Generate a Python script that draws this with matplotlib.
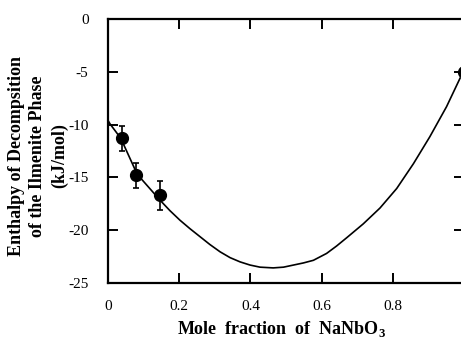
import matplotlib
matplotlib.use("Agg")
import matplotlib.pyplot as plt

plt.rcParams['font.family'] = ['Liberation Serif', 'DejaVu Serif']
plt.rcParams['mathtext.fontset'] = 'custom'
plt.rcParams['mathtext.rm'] = 'Liberation Serif:bold'
plt.rcParams['mathtext.bf'] = 'Liberation Serif:bold'

# measured points with error bars
x_pts = [0.039, 0.079, 0.146, 1.0]
y_pts = [-11.3, -14.8, -16.7, -5.0]
y_err = [1.2, 1.2, 1.4, 0.8]

# fitted curve
x_fit = [0.0, 0.006, 0.036, 0.082, 0.146, 0.174, 0.202, 0.230, 0.258, 0.286,
         0.315, 0.343, 0.371, 0.399, 0.427, 0.464, 0.493, 0.521, 0.549,
         0.577, 0.614, 0.642, 0.671, 0.717, 0.764, 0.811, 0.858, 0.904,
         0.951, 0.989]
y_fit = [-9.6, -9.95, -11.3, -14.7, -17.15, -18.15, -19.05, -19.85, -20.6,
         -21.35, -22.05, -22.6, -23.0, -23.3, -23.5, -23.57, -23.5, -23.3,
         -23.1, -22.85, -22.2, -21.5, -20.7, -19.4, -17.9, -16.05, -13.7,
         -11.15, -8.3, -5.6]

x_ticks = [0, 0.2, 0.4, 0.6, 0.8]
x_ticklabels = ['0', '0.2', '0.4', '0.6', '0.8']
y_ticks = [0, -5, -10, -15, -20, -25]
y_ticklabels = ['0', '-5', '-10', '-15', '-20', '-25']

W, H = 461, 344
fig = plt.figure(figsize=(W / 100, H / 100), dpi=100)
ax = fig.add_axes([108 / W, 1 - 283 / H, (464 - 108) / W, (283 - 19) / H])

ax.plot(x_fit, y_fit, color='black', lw=1.2, clip_on=False)
ax.errorbar(x_pts, y_pts, yerr=y_err, fmt='o', color='black', ms=8.5,
            elinewidth=1.2, capsize=2.5, capthick=1.2)

ax.set_xlim(0, 1.0)
ax.set_ylim(-25, 0)
ax.set_xticks(x_ticks)
ax.set_xticklabels(x_ticklabels)
ax.set_yticks(y_ticks)
ax.set_yticklabels(y_ticklabels)
ax.tick_params(direction='in', length=7, width=1.4, labelsize=11,
               top=True, right=True)
ax.tick_params(axis='x', pad=12)
ax.tick_params(axis='y', pad=14)
for s in ax.spines.values():
    s.set_linewidth(1.6)

fig.text(38 / W, 1 - 156 / H,
         'Enthalpy of Decompsition\nof the Ilmenite Phase\n(kJ/mol)',
         rotation=90, ha='center', va='center', multialignment='center',
         fontsize=13, fontweight='bold', linespacing=1.35)
fig.text(282 / W, 1 - 334 / H, 'Mole  fraction  of  NaNbO$_3$',
         ha='center', va='baseline', fontsize=13, fontweight='bold')

fig.savefig('out.png', dpi=100)
